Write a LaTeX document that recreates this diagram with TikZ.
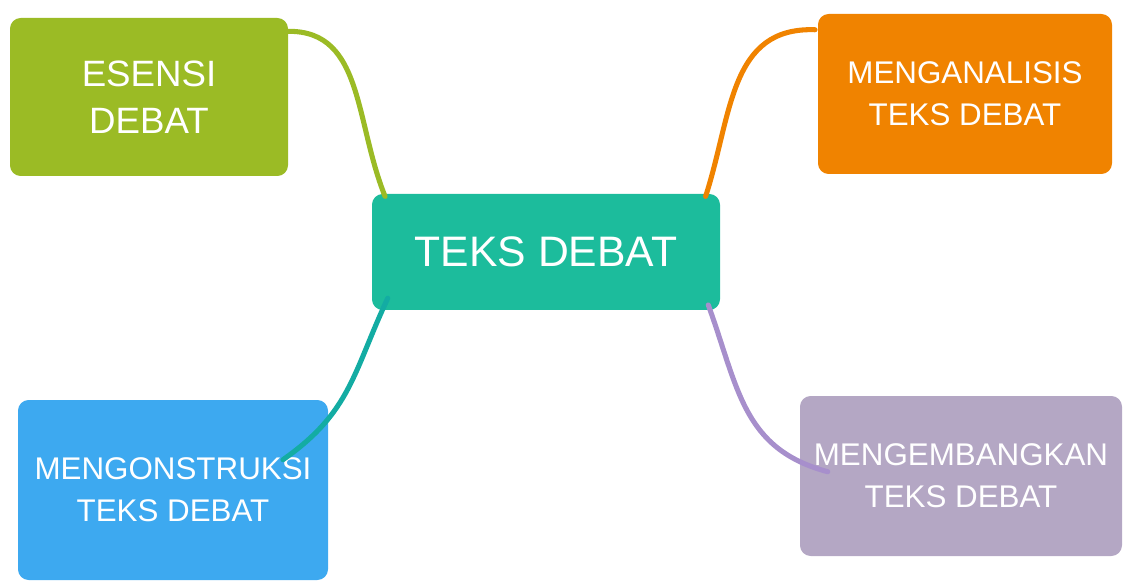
\documentclass[tikz,border=0pt]{standalone}
\usepackage{fontspec}
\setmainfont{Liberation Sans}
\usepackage{xcolor}
\usetikzlibrary{positioning, calc}
\definecolor{hijau}{HTML}{9BBB25}
\definecolor{oranye}{HTML}{F08300}
\definecolor{tosca}{HTML}{1CBC9C}
\definecolor{biru}{HTML}{3DA9F0}
\definecolor{ungu}{HTML}{B4A7C4}
\definecolor{tealgaris}{HTML}{13ACA3}
\definecolor{ungugaris}{HTML}{A78FCC}
\tikzset{
  cabang/.style={rectangle, rounded corners=8pt, align=center, text=white,
                 inner sep=3pt, font=\fontsize{23.5}{31.5}\selectfont},
  topik/.style={cabang, fill=tosca, minimum width=261pt, minimum height=87pt,
                font=\fontsize{32}{38}\selectfont},
  garis/.style={line width=3.8pt, line cap=round},
}
\begin{document}
\begin{tikzpicture}[x=0.75pt, y=0.75pt]
  \useasboundingbox (0,0) rectangle (1129,583);
  \node[topik] (teks) at (546,331) {TEKS DEBAT};
  \node[cabang, fill=hijau, minimum width=208.5pt, minimum height=118.5pt,
        font=\fontsize{27.5}{35}\selectfont] (esensi) at (149,486) {ESENSI\\DEBAT};
  \node[cabang, fill=oranye, minimum width=220.5pt, minimum height=120pt] (analisis) at (965,489) {MENGANALISIS\\TEKS DEBAT};
  \node[cabang, fill=biru, minimum width=232.5pt, minimum height=135pt] (konstruksi) at (173,93) {MENGONSTRUKSI\\TEKS DEBAT};
  \node[cabang, fill=ungu, minimum width=241.5pt, minimum height=120pt] (kembang) at (961,107) {MENGEMBANGKAN\\TEKS DEBAT};
  % penghubung
  \draw[garis, hijau] ([xshift=-6pt, yshift=-10.5pt]esensi.north east)
    to[out=5, in=112, looseness=1.1] ([xshift=10pt, yshift=-2pt]teks.north west);
  \draw[garis, oranye] ([xshift=-2pt, yshift=-12pt]analisis.north west)
    to[out=178, in=72, looseness=1.1] ([xshift=-11pt, yshift=-2pt]teks.north east);
  \draw[garis, tealgaris] ([xshift=12pt, yshift=9pt]teks.south west)
    to[out=245, in=35, looseness=1.1] ([xshift=-34pt, yshift=-45pt]konstruksi.north east);
  \draw[garis, ungugaris] ([xshift=-9pt, yshift=4pt]teks.south east)
    to[out=290, in=165, looseness=1.1] ([xshift=21pt, yshift=-57pt]kembang.north west);
\end{tikzpicture}
\end{document}
